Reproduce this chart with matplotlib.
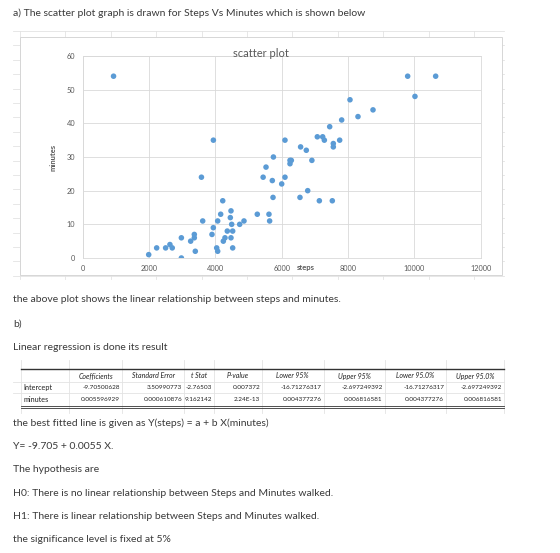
import matplotlib
matplotlib.use("Agg")
import matplotlib.pyplot as plt
import numpy as np
from matplotlib.patches import Rectangle

plt.rcParams['font.family'] = ['Lato', 'DejaVu Sans']

# scatter data
steps = [930, 1990, 2230, 2500, 2630, 2700, 2975, 2975, 3255, 3365, 3365, 3395,
         3580, 3618, 3898, 3940, 3938, 4040, 4070, 4070, 4160, 4240, 4222, 4290,
         4360, 4451, 4471, 4471, 4492, 4522, 4522, 4733, 4863, 5264, 5440, 5527,
         5616, 5636, 5717, 5738, 5750, 6000, 6099, 6099, 6250, 6250, 6290, 6570,
         6551, 6742, 6784, 6910, 7074, 7135, 7235, 7286, 7447, 7556, 7556, 7526,
         7748, 7808, 8059, 8300, 8753, 9798, 10018, 10642]
minutes = [54, 1, 3, 3, 4, 3, 6, 0, 5, 7, 6, 2,
           24, 11, 7, 35, 9, 3, 2, 11, 13, 5, 17, 6,
           8, 12, 14, 6, 10, 8, 3, 10, 11, 13, 24, 27,
           13, 11, 23, 18, 30, 22, 24, 35, 28, 29, 29, 33,
           18, 32, 20, 29, 36, 17, 36, 35, 39, 34, 33, 17,
           35, 41, 47, 42, 44, 54, 48, 54]

x_ticks = [0, 2000, 4000, 6000, 8000, 10000, 12000]
y_ticks = [0, 10, 20, 30, 40, 50, 60]

# regression output table
table_header = ["", "Coefficients", "Standard Error", "t Stat", "P-value",
                "Lower 95%", "Upper 95%", "Lower 95.0%", "Upper 95.0%"]
row_intercept = ["Intercept", "-9.70500628", "3.50990773", "-2.76503", "0.007372",
                 "-16.71276317", "-2.697249392", "-16.71276317", "-2.697249392"]
row_minutes = ["minutes", "0.005596929", "0.000610876", "9.162142", "2.24E-13",
               "0.004377276", "0.006816581", "0.004377276", "0.006816581"]

intro = "a) The scatter plot graph is drawn for Steps Vs Minutes which is shown below"
middle_lines = ["the above plot shows the linear relationship between steps and minutes.",
                "b)",
                "Linear regression is done its result"]
bottom_lines = ["the best fitted line is given as Y(steps) = a + b X(minutes)",
                "Y= -9.705 + 0.0055 X.",
                "The hypothesis are",
                "H0: There is no linear relationship between Steps and Minutes walked.",
                "H1: There is linear relationship between Steps and Minutes walked.",
                "the significance level is fixed at 5%"]

W, H = 560, 553
fig = plt.figure(figsize=(W / 100, H / 100), dpi=100)
fig.patch.set_facecolor("white")

# background canvas in pixel coordinates
bg = fig.add_axes([0, 0, 1, 1])
bg.set_xlim(0, W)
bg.set_ylim(H, 0)
bg.axis("off")

txt_col = "#3a3a3a"
grid_col = "#e3e3e3"
body_fs = 7.5

bg.text(13, 13, intro, fontsize=body_fs, color=txt_col, va="center")

# spreadsheet grid behind the chart
for k in range(18):
    y = 31 + 14.4 * k
    bg.plot([13, 504], [y, y], color=grid_col, lw=0.6, zorder=1)
for k in range(11):
    x = 20 + 45.4 * k
    bg.plot([x, x], [31, 279], color=grid_col, lw=0.6, zorder=1)
bg.add_patch(Rectangle((20, 37.3), 482.3, 237.7, facecolor="white",
                       edgecolor="#d6d6d6", lw=0.7, zorder=2))

for i, line in enumerate(middle_lines):
    bg.text(13, 300 + 24 * i, line, fontsize=body_fs, color=txt_col, va="center")

# table
edges = [20.8, 69.4, 122, 184, 213.5, 262, 323.5, 384.5, 446, 503.6]
for x in edges:
    bg.plot([x, x], [360, 413], color=grid_col, lw=0.6, zorder=1)
for y in [381.8, 393.3]:
    bg.plot([13, 504], [y, y], color=grid_col, lw=0.6, zorder=1)
bg.plot([edges[0], edges[-1]], [369.3, 369.3], color="#333333", lw=1.0)
bg.plot([edges[0], edges[-1]], [406.4, 406.4], color="#333333", lw=0.6)
bg.plot([edges[0], edges[-1]], [408.4, 408.4], color="#333333", lw=0.6)

for j, h in enumerate(table_header):
    if h:
        bg.text((edges[j] + edges[j + 1]) / 2, 376, h, fontsize=5.0,
                style="italic", color="#222222", ha="center", va="center")
for y, row in [(387.5, row_intercept), (399.2, row_minutes)]:
    bg.text(edges[0] + 2.5, y, row[0], fontsize=5.2, color="#222222", va="center")
    for j in range(1, len(row)):
        bg.text(edges[j + 1] - 1.8, y, row[j], fontsize=4.6, color="#222222",
                ha="right", va="center")

for i, line in enumerate(bottom_lines):
    bg.text(13, 423 + 23.4 * i, line, fontsize=body_fs, color=txt_col, va="center")

# scatter chart
ax = fig.add_axes([82.7 / W, 1 - 258 / H, 398 / W, 202 / H])
ax.scatter(steps, minutes, s=16, color="#5b9bd5", edgecolors="none", zorder=3)
ax.set_xlim(0, 12000)
ax.set_ylim(0, 60)
ax.set_xticks(x_ticks)
ax.set_yticks(y_ticks)
ax.grid(True, color="#d9d9d9", lw=0.6)
ax.set_axisbelow(True)
for s in ax.spines.values():
    s.set_color("#d9d9d9")
    s.set_linewidth(0.6)
ax.tick_params(length=0, labelsize=5.3, labelcolor="#595959")
ax.tick_params(axis="y", pad=5.3)
ax.tick_params(axis="x", pad=5)
ax.set_ylabel("minutes", fontsize=5.5, fontweight="bold", color="#595959")
ax.yaxis.set_label_coords(-0.0646, 0.5)
ax.text(0.561, -0.0495, "steps", transform=ax.transAxes, fontsize=5.5,
        fontweight="bold", color="#595959", ha="center", va="center")
ax.text(0.448, 1.013, "scatter plot", transform=ax.transAxes, fontsize=8,
        color="#595959", ha="center", va="center", clip_on=False)

fig.savefig("out.png", dpi=100, facecolor="white")
